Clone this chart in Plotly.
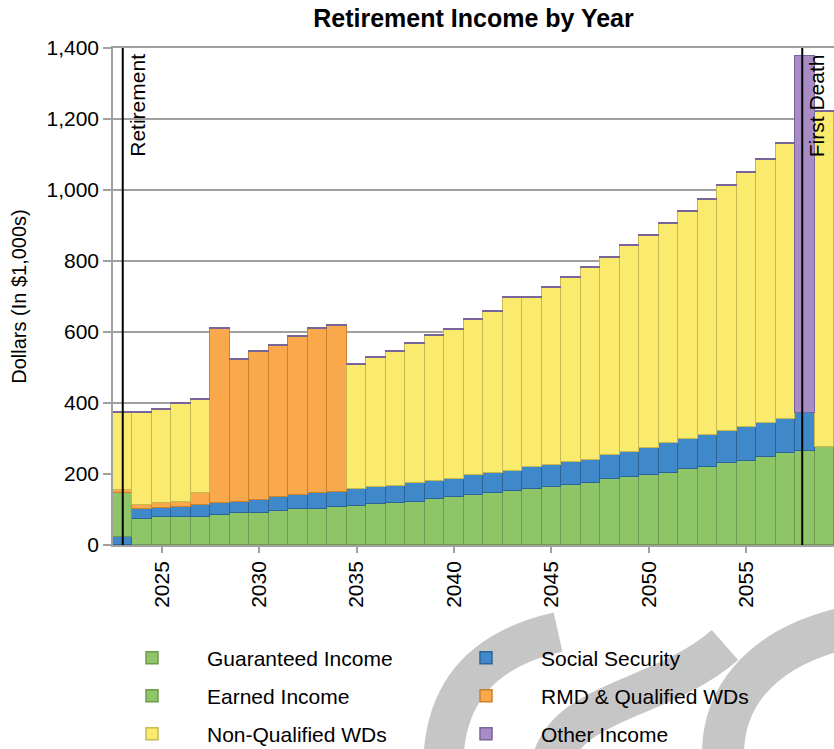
import plotly.graph_objects as go

years = list(range(2023, 2060))

guaranteed_income = [0, 73, 78, 80, 80, 85, 91, 91, 96, 101, 101, 108, 111, 115, 117, 122, 129, 134, 141,
                     146, 152, 158, 164, 169, 174, 186, 191, 197, 202, 214, 219, 230, 237, 247, 258, 266, 275]
social_security = [22, 28, 27, 28, 33, 33, 31, 36, 40, 40, 45, 42, 46, 47, 50, 52, 51, 51, 56,
                   58, 57, 61, 61, 66, 65, 67, 72, 77, 84, 85, 91, 91, 95, 96, 96, 107, 0]
earned_income = [124] + [0] * 36
rmd_qualified = [9, 12, 12, 14, 33, 490, 399, 416, 424, 445, 462, 468] + [0] * 25
non_qualified = [216, 258, 263, 276, 262, 0, 0, 0, 0, 0, 0, 0, 349, 365, 377, 393, 408, 420, 437,
                 452, 488, 477, 500, 518, 542, 556, 579, 596, 617, 639, 662, 690, 715, 741, 775, 0, 945]
other_income = [3] * 35 + [1005, 3]

series = [
    ("Guaranteed Income", guaranteed_income, "#8EC566", "#6F9A4F", "legend"),
    ("Social Security", social_security, "#3F88C9", "#2C6497", "legend"),
    ("Earned Income", earned_income, "#8EC566", "#6F9A4F", "legend2"),
    ("RMD & Qualified WDs", rmd_qualified, "#F9A94B", "#C9832F", "legend2"),
    ("Non-Qualified WDs", non_qualified, "#FAEA6E", "#C7B850", "legend3"),
    ("Other Income", other_income, "#A78CC5", "#7A6598", "legend3"),
]

W, H = 834, 749
PL, PT, PB = 113, 48, 749 - 545  # plot area edges
PW, PH = W - PL, H - PT - PB

fig = go.Figure()
for name, vals, fill, edge, lg in series:
    fig.add_trace(go.Bar(
        x=years, y=vals, name=name, legend=lg,
        marker=dict(color=fill, line=dict(color=edge, width=1.5)),
    ))


def px(x, y):
    """figure pixel -> paper coordinates (for the background watermark)"""
    return (x - PL) / PW, (H - PB - y) / PH


def path(points):
    (x0, y0), c1, c2, p3 = [px(*p) for p in points]
    return f"M {x0},{y0} C {c1[0]},{c1[1]} {c2[0]},{c2[1]} {p3[0]},{p3[1]}"


WM = "#C6C6C6"
watermark = [
    dict(type="path", xref="paper", yref="paper", layer="below",
         path=path([(443, 770), (443, 705), (470, 652), (558, 632)]),
         line=dict(color=WM, width=40)),
    dict(type="path", xref="paper", yref="paper", layer="below",
         path=path([(550, 770), (560, 700), (660, 702), (725, 645)]),
         line=dict(color=WM, width=40)),
    dict(type="path", xref="paper", yref="paper", layer="below",
         path=path([(724, 770), (716, 700), (760, 648), (845, 628)]),
         line=dict(color=WM, width=42)),
]

FONT = "Liberation Sans, Arial, sans-serif"
legend_common = dict(orientation="h", x=(97 - 113) / PW, xanchor="left", yanchor="middle",
                     font=dict(size=21, color="#000000", family=FONT), traceorder="normal",
                     itemwidth=100, entrywidth=219, entrywidthmode="pixels",
                     bgcolor="rgba(0,0,0,0)", itemclick=False)

fig.update_layout(
    width=W, height=H,
    margin=dict(l=PL, r=0, t=PT, b=PB, autoexpand=False),
    paper_bgcolor="white", plot_bgcolor="white",
    barmode="stack", bargap=0,
    font=dict(family=FONT, size=21, color="#000000"),
    title=dict(text="<b>Retirement Income by Year</b>", x=0.5, xref="paper", xanchor="center",
               y=1 - 18 / H, yref="container", yanchor="middle",
               font=dict(size=25, family=FONT, color="#000000")),
    legend=dict(**legend_common, y=(545 - 658) / PH),
    legend2=dict(**legend_common, y=(545 - 696) / PH),
    legend3=dict(**legend_common, y=(545 - 734) / PH),
    xaxis=dict(range=[2022.5, 2059.5], tickmode="array", tickvals=[2025, 2030, 2035, 2040, 2045, 2050, 2055],
               tickangle=-90, ticks="outside", ticklen=6, tickcolor="#A0A0A0", tickwidth=1.5,
               showline=True, linecolor="#A0A0A0", linewidth=1.5, mirror=True,
               showgrid=False, zeroline=False, tickfont=dict(size=21)),
    yaxis=dict(range=[0, 1400], tickmode="array", tickvals=[0, 200, 400, 600, 800, 1000, 1200, 1400],
               tickformat=",d", ticks="outside", ticklen=8, tickcolor="#A0A0A0", tickwidth=1.5,
               showline=True, linecolor="#A0A0A0", linewidth=1.5, mirror=True,
               showgrid=True, gridcolor="#A0A0A0", gridwidth=1.5, zeroline=False,
               tickfont=dict(size=21),
               title=dict(text="Dollars (In $1,000s)", font=dict(size=20), standoff=14)),
    shapes=watermark + [
        dict(type="line", xref="x", yref="y", x0=2023, x1=2023, y0=0, y1=1400,
             line=dict(color="#000000", width=2)),
        dict(type="line", xref="x", yref="y", x0=2057.87, x1=2057.87, y0=0, y1=1400,
             line=dict(color="#000000", width=2)),
    ],
    annotations=[
        dict(text="Retirement", x=2023, y=1400, xref="x", yref="y", xanchor="left", yanchor="top",
             textangle=-90, showarrow=False, xshift=1, yshift=-4, font=dict(size=21)),
        dict(text="First Death", x=2057.87, y=1400, xref="x", yref="y", xanchor="left", yanchor="top",
             textangle=-90, showarrow=False, xshift=1, yshift=-4, font=dict(size=21)),
    ],
)

# remove the browser's default 8px page margin so the figure fills the window exactly
fig.write_html("out.html", config={"displayModeBar": False},
               post_script="document.body.style.margin='0px';")
